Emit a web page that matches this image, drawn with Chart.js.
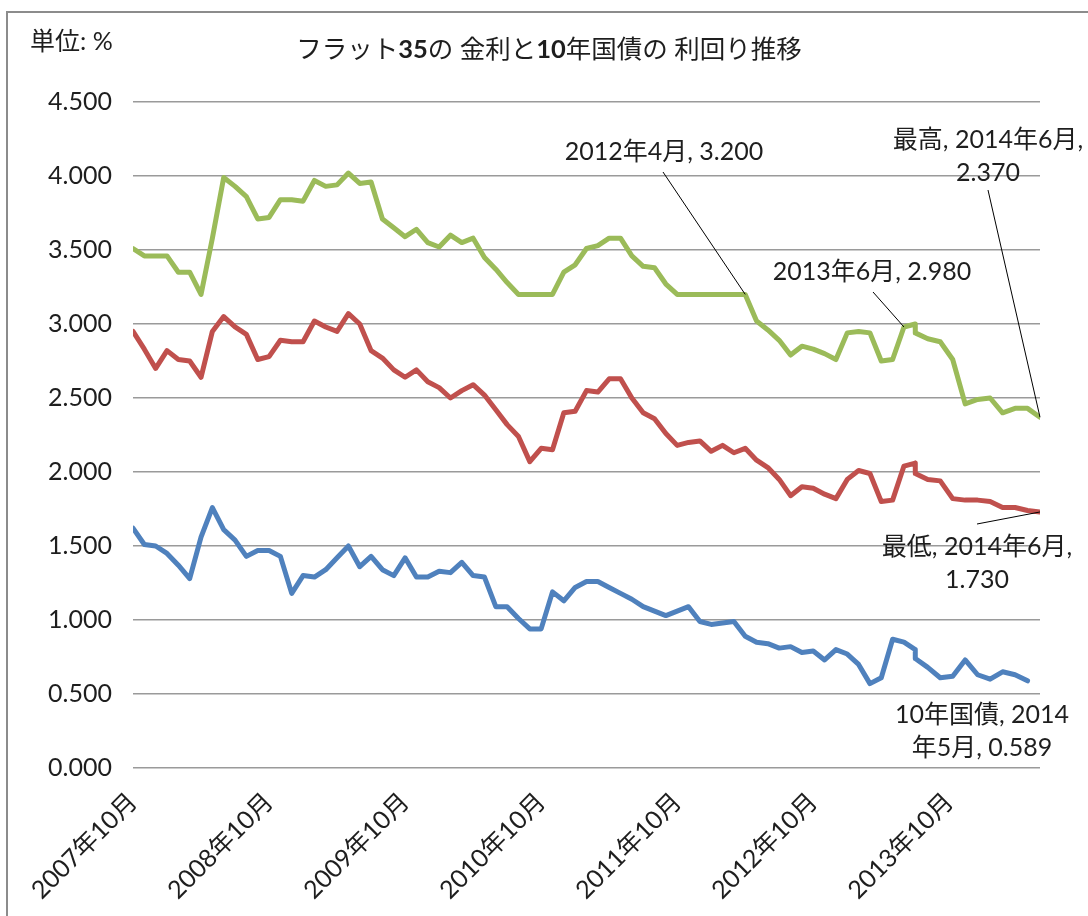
<!DOCTYPE html>
<html lang="ja">
<head>
<meta charset="utf-8">
<script src="https://cdn.jsdelivr.net/npm/chart.js@4.4.1/dist/chart.umd.min.js"></script>
<style>
  html, body { margin: 0; padding: 0; background: #fff; overflow: hidden; }
  #wrap { position: relative; width: 1088px; height: 916px; }
  #frame { position: absolute; left: 6px; top: 11px; width: 1100px; height: 920px;
           border-left: 2px solid #8c8c8c; border-top: 2px solid #8c8c8c; }
  canvas { position: absolute; left: 0; top: 0; }
</style>
</head>
<body>
<div id="wrap">
  <div id="frame"></div>
  <canvas id="rateChart" width="1088" height="916"></canvas>
</div>
<script>
// =====================
// Data (months counted from 2007年10月)
// =====================
const monthPos = [
  0, 1, 2, 3, 4, 5, 6, 7, 8, 9,
  10, 11, 12, 13, 14, 15, 16, 17, 18, 19,
  20, 21, 22, 23, 24, 25, 26, 27, 28, 29,
  30, 31, 32, 33, 34, 35, 36, 37, 38, 39,
  40, 41, 42, 43, 44, 45, 46, 47, 48, 49,
  50, 51, 52, 53, 54, 55, 56, 57, 58, 59,
  60, 61, 62, 63, 64, 65, 66, 67, 68, 69,
  69, 70.1, 71.2, 72.3, 73.4, 74.5, 75.6, 76.7, 77.8, 78.9, 80
];

// フラット35 最高金利
const flat35High = [
  3.51, 3.46, 3.46, 3.46, 3.35, 3.35, 3.20, 3.58, 3.99, 3.93,
  3.86, 3.71, 3.72, 3.84, 3.84, 3.83, 3.97, 3.93, 3.94, 4.02,
  3.95, 3.96, 3.71, 3.65, 3.59, 3.64, 3.55, 3.52, 3.60, 3.55,
  3.58, 3.45, 3.37, 3.28, 3.20, 3.20, 3.20, 3.20, 3.35, 3.40,
  3.51, 3.53, 3.58, 3.58, 3.46, 3.39, 3.38, 3.27, 3.20, 3.20,
  3.20, 3.20, 3.20, 3.20, 3.20, 3.02, 2.96, 2.89, 2.79, 2.85,
  2.83, 2.80, 2.76, 2.94, 2.95, 2.94, 2.75, 2.76, 2.98, 3.00,
  2.94, 2.90, 2.88, 2.76, 2.46, 2.49, 2.50, 2.40, 2.43, 2.43, 2.37
];

// フラット35 最低金利
const flat35Low = [
  2.95, 2.83, 2.70, 2.82, 2.76, 2.75, 2.64, 2.95, 3.05, 2.98,
  2.93, 2.76, 2.78, 2.89, 2.88, 2.88, 3.02, 2.98, 2.95, 3.07,
  3.00, 2.82, 2.77, 2.69, 2.64, 2.69, 2.61, 2.57, 2.50, 2.55,
  2.59, 2.52, 2.42, 2.32, 2.24, 2.07, 2.16, 2.15, 2.40, 2.41,
  2.55, 2.54, 2.63, 2.63, 2.50, 2.40, 2.36, 2.26, 2.18, 2.20,
  2.21, 2.14, 2.18, 2.13, 2.16, 2.08, 2.03, 1.95, 1.84, 1.90,
  1.89, 1.85, 1.82, 1.95, 2.01, 1.99, 1.80, 1.81, 2.04, 2.06,
  1.99, 1.95, 1.94, 1.82, 1.81, 1.81, 1.80, 1.76, 1.76, 1.74, 1.73
];

// 10年国債 利回り (2014年5月まで)
const jgb10 = [
  1.62, 1.51, 1.50, 1.45, 1.37, 1.28, 1.56, 1.76, 1.61, 1.54,
  1.43, 1.47, 1.47, 1.43, 1.18, 1.30, 1.29, 1.34, 1.42, 1.50,
  1.36, 1.43, 1.34, 1.30, 1.42, 1.29, 1.29, 1.33, 1.32, 1.39,
  1.30, 1.29, 1.09, 1.09, 1.01, 0.94, 0.94, 1.19, 1.13, 1.22,
  1.26, 1.26, 1.22, 1.18, 1.14, 1.09, 1.06, 1.03, 1.06, 1.09,
  0.99, 0.97, 0.98, 0.99, 0.89, 0.85, 0.84, 0.81, 0.82, 0.78,
  0.79, 0.73, 0.80, 0.77, 0.70, 0.57, 0.61, 0.87, 0.85, 0.80,
  0.74, 0.68, 0.61, 0.62, 0.73, 0.63, 0.60, 0.65, 0.63, 0.589
];

const tickMonths = [0, 12, 24, 36, 48, 60, 72];
const tickLabels = ['2007年10月', '2008年10月', '2009年10月', '2010年10月', '2011年10月', '2012年10月', '2013年10月'];

const FONT = '"Lato", "Noto Sans CJK JP", sans-serif';
const TEXT = '#1e1e1e';

function toPoints(values) {
  return values.map((v, i) => ({ x: monthPos[i], y: v }));
}

// =====================
// Title / unit / data label annotations
// =====================
const notes = [
  { ds: 2, idx: 54, lines: ['2012年4月, 3.200'], cx: 664, cy: 152, from: [663, 172] },
  { ds: 2, idx: 68, lines: ['2013年6月, 2.980'], cx: 872, cy: 272, from: [873, 292] },
  { ds: 2, idx: 80, lines: ['最高, 2014年6月,', '2.370'], cx: 988, cy: 140, from: [988, 190] },
  { ds: 1, idx: 80, lines: ['最低, 2014年6月,', '1.730'], cx: 977, cy: 547, from: [977, 524] },
  { ds: 0, idx: null, lines: ['10年国債, 2014', '年5月, 0.589'], cx: 982, cy: 715, from: null }
];

const decorPlugin = {
  id: 'decor',
  afterDatasetsDraw(chart) {
    const ctx = chart.ctx;
    ctx.save();

    // unit
    ctx.fillStyle = TEXT;
    ctx.textBaseline = 'middle';
    ctx.textAlign = 'left';
    ctx.font = '25px ' + FONT;
    ctx.fillText('単位: %', 30, 42);

    // title, digits in bold
    const parts = [['フラット', false], ['35', true], ['の 金利と', false], ['10', true], ['年国債の 利回り推移', false]];
    const fontFor = b => (b ? 'bold ' : '') + '25.5px ' + FONT;
    let total = 0;
    parts.forEach(p => { ctx.font = fontFor(p[1]); total += ctx.measureText(p[0]).width; });
    let x = 549 - total / 2;
    parts.forEach(p => {
      ctx.font = fontFor(p[1]);
      ctx.fillText(p[0], x, 50);
      x += ctx.measureText(p[0]).width;
    });

    // data labels with leader lines
    ctx.font = '25px ' + FONT;
    ctx.textAlign = 'center';
    notes.forEach(n => {
      n.lines.forEach((t, k) => ctx.fillText(t, n.cx, n.cy + k * 33));
      if (n.from) {
        const pt = chart.getDatasetMeta(n.ds).data[n.idx];
        ctx.strokeStyle = '#000';
        ctx.lineWidth = 1;
        ctx.beginPath();
        ctx.moveTo(n.from[0], n.from[1]);
        ctx.lineTo(pt.x, pt.y);
        ctx.stroke();
      }
    });
    ctx.restore();
  }
};

const lineStyle = {
  borderWidth: 5,
  pointRadius: 0,
  tension: 0,
  borderJoinStyle: 'round',
  borderCapStyle: 'round',
  fill: false
};

new Chart(document.getElementById('rateChart'), {
  type: 'line',
  data: {
    datasets: [
      { label: '10年国債', data: toPoints(jgb10), borderColor: '#4F81BD', ...lineStyle },
      { label: '最低', data: toPoints(flat35Low), borderColor: '#C0504D', ...lineStyle },
      { label: '最高', data: toPoints(flat35High), borderColor: '#9BBB59', ...lineStyle }
    ]
  },
  options: {
    responsive: false,
    animation: false,
    layout: { padding: { left: 0, top: 102, right: 48, bottom: 0 } },
    plugins: { legend: { display: false }, tooltip: { enabled: false } },
    scales: {
      x: {
        type: 'linear',
        min: 0,
        max: 80,
        afterBuildTicks: s => { s.ticks = tickMonths.map(v => ({ value: v })); },
        afterFit: s => { s.height = 148; },
        grid: { display: false },
        border: { display: false },
        ticks: {
          autoSkip: false,
          minRotation: 45,
          maxRotation: 45,
          padding: 11,
          color: TEXT,
          font: { family: FONT, size: 25 },
          callback: v => tickLabels[tickMonths.indexOf(v)]
        }
      },
      y: {
        min: 0,
        max: 4.5,
        afterFit: s => { s.width = 133; },
        grid: { color: '#9a9a9a', lineWidth: 1.5, drawTicks: false },
        border: { display: false },
        ticks: {
          stepSize: 0.5,
          padding: 21,
          color: TEXT,
          font: { family: FONT, size: 25 },
          callback: v => v.toFixed(3)
        }
      }
    }
  },
  plugins: [decorPlugin]
});
</script>
</body>
</html>
